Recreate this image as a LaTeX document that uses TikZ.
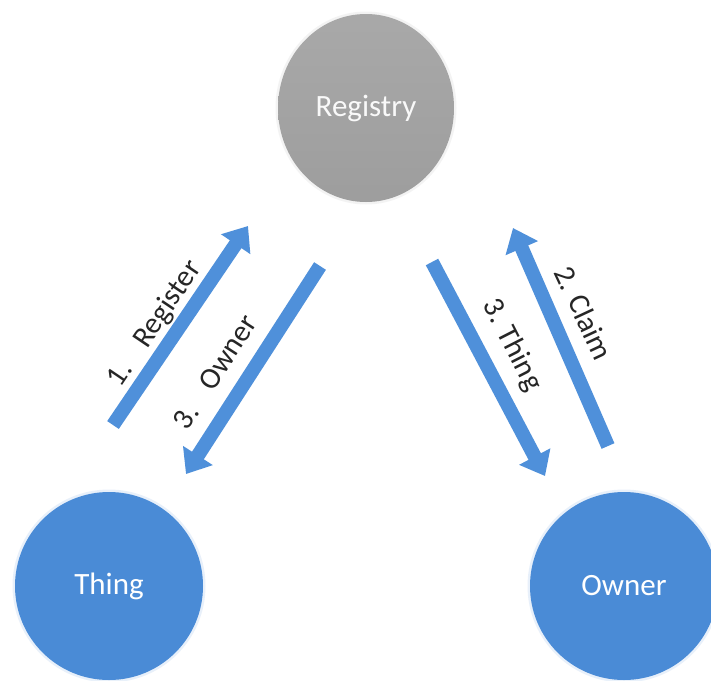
\documentclass[tikz,border=0pt]{standalone}
\usepackage{fontspec}
\setmainfont{Carlito}
\usetikzlibrary{arrows.meta,shapes.geometric}

\definecolor{nodeblue}{HTML}{4A8BD6}
\definecolor{arrowblue}{HTML}{4F90DA}
\definecolor{nodegray}{HTML}{A4A4A4}

\tikzset{
  party/.style={ellipse, minimum width=#1, minimum height=#1, inner sep=0pt,
    fill=nodeblue, text=white, font=\fontsize{31}{31}\selectfont},
  hub/.style={ellipse, minimum width=176pt, minimum height=188pt, inner sep=0pt,
    top color=nodegray!95!white, bottom color=nodegray!96!black,
    text=white!95!gray, font=\fontsize{31}{31}\selectfont},
  halo/.style={ellipse, inner sep=0pt, fill=#1, opacity=0.12},
  flow/.style={draw=arrowblue, line width=14pt,
    -{Triangle[width=34pt,length=22pt]}},
  steplabel/.style={font=\fontsize{30}{30}\selectfont, text=black!85, inner sep=0pt}
}

\begin{document}
\begin{tikzpicture}[x=1pt,y=-1pt]
  \useasboundingbox (0,0) rectangle (711,680);
  \fill[white] (0,0) rectangle (711,680);

  % soft edges round the three parties
  \node[halo=nodegray, minimum width=181pt, minimum height=193pt] at (366,108) {};
  \node[halo=nodeblue, minimum width=193pt, minimum height=193pt] at (109,586) {};
  \node[halo=nodeblue, minimum width=193pt, minimum height=193pt] at (624,586) {};

  % parties
  \node[hub] (registry) at (366,108) {Registry};
  \node[party=188pt] (thing) at (109,586) {Thing};
  \node[party=188pt] (owner) at (624,586) {Owner};

  % end points of the message arrows
  \coordinate (regTail)   at (113,425);
  \coordinate (regTip)    at (248,226);
  \coordinate (ownTail)   at (320,266);
  \coordinate (ownTip)    at (186,474);
  \coordinate (thgTail)   at (432,262);
  \coordinate (thgTip)    at (545,476);
  \coordinate (clmTail)   at (608,446);
  \coordinate (clmTip)    at (513,228);

  % message arrows
  \draw[flow] (regTail) -- (regTip);
  \draw[flow] (ownTail) -- (ownTip);
  \draw[flow] (thgTail) -- (thgTip);
  \draw[flow] (clmTail) -- (clmTip);

  % step labels
  \node[steplabel, rotate=56]  (lreg) at (155,324) {1.\hspace{0.8em}Register};
  \node[steplabel, rotate=57]  (lown) at (215,372) {3.\hspace{0.8em}Owner};
  \node[steplabel, rotate=-63] (lthg) at (512,345) {3. Thing};
  \node[steplabel, rotate=-65] (lclm) at (584,313) {2. Claim};
\end{tikzpicture}
\end{document}
